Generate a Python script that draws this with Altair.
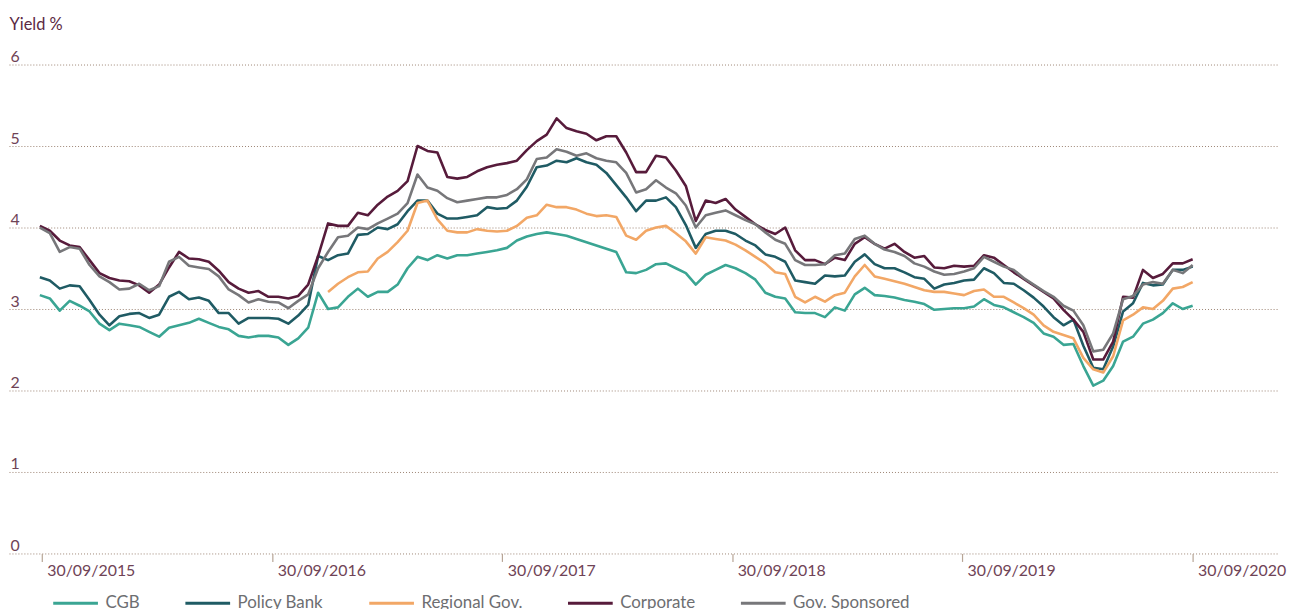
import altair as alt
import pandas as pd

series_names = ["CGB", "Policy Bank", "Regional Gov.", "Corporate", "Gov. Sponsored"]
colors = ["#3aa593", "#1f5b64", "#f2a766", "#571b3b", "#77777a"]

dates = pd.date_range("2015-09-27", "2020-09-30", periods=117)

cgb = [
    3.17, 3.13, 2.98, 3.10, 3.04, 2.97, 2.82, 2.74, 2.82, 2.80,
    2.78, 2.72, 2.66, 2.77, 2.80, 2.83, 2.88, 2.83, 2.78, 2.75,
    2.67, 2.65, 2.67, 2.67, 2.65, 2.56, 2.64, 2.77, 3.20, 3.00,
    3.02, 3.15, 3.25, 3.15, 3.21, 3.21, 3.30, 3.50, 3.64, 3.60,
    3.66, 3.62, 3.66, 3.66, 3.68, 3.70, 3.72, 3.75, 3.84, 3.89,
    3.92, 3.94, 3.92, 3.90, 3.86, 3.82, 3.78, 3.74, 3.70, 3.45,
    3.44, 3.48, 3.55, 3.56, 3.50, 3.44, 3.30, 3.42, 3.48, 3.54,
    3.50, 3.44, 3.36, 3.20, 3.15, 3.13, 2.96, 2.95, 2.95, 2.90,
    3.02, 2.98, 3.18, 3.26, 3.17, 3.16, 3.14, 3.11, 3.09, 3.06,
    2.99, 3.00, 3.01, 3.01, 3.03, 3.12, 3.05, 3.02, 2.96, 2.90,
    2.83, 2.70, 2.66, 2.56, 2.57, 2.30, 2.06, 2.12, 2.30, 2.60,
    2.66, 2.82, 2.87, 2.95, 3.07, 3.00, 3.04,
]

policy_bank = [
    3.39, 3.35, 3.25, 3.29, 3.28, 3.11, 2.93, 2.80, 2.91, 2.94,
    2.95, 2.89, 2.93, 3.15, 3.21, 3.12, 3.14, 3.10, 2.95, 2.95,
    2.82, 2.89, 2.89, 2.89, 2.88, 2.82, 2.92, 3.05, 3.65, 3.60,
    3.66, 3.68, 3.91, 3.92, 4.00, 3.98, 4.04, 4.20, 4.33, 4.33,
    4.17, 4.11, 4.11, 4.13, 4.15, 4.25, 4.23, 4.24, 4.33, 4.50,
    4.74, 4.76, 4.82, 4.80, 4.85, 4.80, 4.77, 4.67, 4.52, 4.37,
    4.20, 4.33, 4.33, 4.37, 4.25, 4.03, 3.75, 3.92, 3.96, 3.96,
    3.92, 3.84, 3.78, 3.67, 3.64, 3.58, 3.35, 3.33, 3.31, 3.41,
    3.40, 3.41, 3.58, 3.67, 3.55, 3.50, 3.50, 3.45, 3.39, 3.37,
    3.25, 3.30, 3.32, 3.35, 3.36, 3.50, 3.44, 3.32, 3.31, 3.23,
    3.14, 3.03, 2.90, 2.80, 2.87, 2.55, 2.28, 2.26, 2.54, 2.97,
    3.07, 3.32, 3.29, 3.30, 3.48, 3.48, 3.52,
]

regional_gov = [None] * 29 + [
    3.21, 3.31, 3.39, 3.45, 3.46, 3.62, 3.70, 3.82, 3.96, 4.30,
    4.33, 4.10, 3.96, 3.94, 3.94, 3.98, 3.96, 3.95, 3.96, 4.02,
    4.12, 4.15, 4.28, 4.25, 4.25, 4.22, 4.17, 4.14, 4.15, 4.13,
    3.90, 3.85, 3.96, 4.00, 4.02, 3.93, 3.83, 3.68, 3.88, 3.86,
    3.84, 3.79, 3.72, 3.64, 3.56, 3.45, 3.43, 3.15, 3.08, 3.15,
    3.09, 3.17, 3.20, 3.40, 3.54, 3.40, 3.37, 3.34, 3.31, 3.27,
    3.23, 3.21, 3.21, 3.19, 3.17, 3.22, 3.24, 3.15, 3.15, 3.08,
    3.01, 2.93, 2.80, 2.72, 2.68, 2.64, 2.40, 2.26, 2.22, 2.42,
    2.86, 2.93, 3.02, 3.00, 3.10, 3.25, 3.27, 3.33,
]

corporate = [
    4.02, 3.96, 3.84, 3.78, 3.76, 3.60, 3.44, 3.38, 3.35, 3.34,
    3.29, 3.20, 3.30, 3.51, 3.70, 3.62, 3.61, 3.58, 3.47, 3.33,
    3.25, 3.20, 3.22, 3.15, 3.15, 3.13, 3.16, 3.30, 3.65, 4.05,
    4.02, 4.02, 4.18, 4.15, 4.28, 4.38, 4.45, 4.57, 5.00, 4.94,
    4.92, 4.62, 4.60, 4.62, 4.69, 4.74, 4.77, 4.79, 4.82, 4.95,
    5.06, 5.14, 5.34, 5.22, 5.18, 5.15, 5.07, 5.12, 5.12, 4.92,
    4.68, 4.68, 4.88, 4.86, 4.70, 4.51, 4.08, 4.33, 4.30, 4.35,
    4.22, 4.13, 4.04, 3.97, 3.92, 4.00, 3.72, 3.60, 3.60, 3.55,
    3.63, 3.60, 3.80, 3.88, 3.80, 3.74, 3.80, 3.70, 3.63, 3.65,
    3.51, 3.50, 3.53, 3.52, 3.53, 3.66, 3.63, 3.54, 3.45, 3.37,
    3.29, 3.21, 3.13, 2.99, 2.87, 2.72, 2.38, 2.38, 2.60, 3.15,
    3.14, 3.48, 3.38, 3.43, 3.56, 3.56, 3.61,
]

gov_sponsored = [
    4.00, 3.93, 3.70, 3.76, 3.74, 3.54, 3.40, 3.33, 3.24, 3.25,
    3.31, 3.23, 3.28, 3.58, 3.64, 3.53, 3.51, 3.49, 3.40, 3.24,
    3.17, 3.08, 3.12, 3.09, 3.08, 3.01, 3.10, 3.18, 3.50, 3.70,
    3.88, 3.90, 4.00, 3.98, 4.05, 4.11, 4.17, 4.30, 4.65, 4.49,
    4.45, 4.36, 4.31, 4.33, 4.35, 4.37, 4.37, 4.40, 4.47, 4.59,
    4.84, 4.86, 4.96, 4.93, 4.88, 4.91, 4.85, 4.82, 4.80, 4.67,
    4.43, 4.47, 4.58, 4.49, 4.42, 4.27, 4.00, 4.15, 4.18, 4.21,
    4.15, 4.09, 4.04, 3.94, 3.85, 3.80, 3.60, 3.54, 3.54, 3.55,
    3.66, 3.68, 3.86, 3.90, 3.80, 3.73, 3.70, 3.65, 3.56, 3.52,
    3.46, 3.42, 3.43, 3.46, 3.50, 3.64, 3.58, 3.52, 3.48, 3.38,
    3.30, 3.22, 3.15, 3.04, 2.98, 2.80, 2.48, 2.50, 2.70, 3.12,
    3.16, 3.30, 3.33, 3.31, 3.48, 3.44, 3.54,
]

y_ticks = [0, 1, 2, 3, 4, 5, 6]
x_tick_years = [2015, 2016, 2017, 2018, 2019, 2020]

all_series = [cgb, policy_bank, regional_gov, corporate, gov_sponsored]
rows = []
for name, vals in zip(series_names, all_series):
    for d, v in zip(dates, vals):
        if v is not None:
            rows.append({"date": d, "series": name, "value": v})
df = pd.DataFrame(rows)

label_color = "#6f4356"

chart = alt.Chart(df).mark_line(strokeWidth=2.6, strokeJoin="round").encode(
    x=alt.X(
        "date:T",
        scale=alt.Scale(domain=[alt.DateTime(year=2015, month=8, date=9),
                                alt.DateTime(year=2021, month=2, date=11)]),
        axis=alt.Axis(
            values=[alt.DateTime(year=y, month=9, date=30) for y in x_tick_years],
            format="%d/%m/%Y",
            title=None,
            grid=False,
            domain=False,
            tickSize=8,
            tickColor="#b7a596",
            tickWidth=1.2,
            labelAlign="left",
            labelBaseline="top",
            labelOffset=5,
            labelPadding=1,
            labelFlush=False,
            labelOverlap=False,
            labelFontSize=16,
            labelColor=label_color,
        ),
    ),
    y=alt.Y(
        "value:Q",
        scale=alt.Scale(domain=[0, 6], nice=False, zero=True),
        axis=alt.Axis(
            values=y_ticks,
            title="Yield %",
            titleAngle=0,
            titleX=0,
            titleY=-35,
            titleAlign="left",
            titleBaseline="alphabetic",
            titleFontSize=16.5,
            titleFontWeight="normal",
            titleColor="#5b2843",
            ticks=False,
            tickSize=0,
            domain=False,
            grid=True,
            gridDash=[1, 2],
            gridColor="#9c8474",
            gridWidth=1,
            labelAlign="left",
            labelBaseline="alphabetic",
            labelOffset=-3,
            labelPadding=-1,
            labelFontSize=16,
            labelColor=label_color,
        ),
    ),
    color=alt.Color(
        "series:N",
        scale=alt.Scale(domain=series_names, range=colors),
        sort=series_names,
        legend=alt.Legend(
            title=None,
            orient="none",
            legendX=43,
            legendY=518,
            direction="horizontal",
            columns=5,
            columnPadding=39,
            symbolType="stroke",
            symbolSize=2025,
            symbolStrokeWidth=3,
            labelFontSize=17,
            labelColor="#6d6e71",
            labelOffset=6,
            padding=0,
        ),
    ),
).properties(
    width=1276,
    height=492,
    autosize=alt.AutoSizeParams(type="none"),
    padding={"left": 1, "top": 55, "right": 11, "bottom": 54},
).configure(
    font="Lato",
).configure_view(
    stroke=None,
)

chart.save("out.html", embed_options={"renderer": "svg", "actions": False})
